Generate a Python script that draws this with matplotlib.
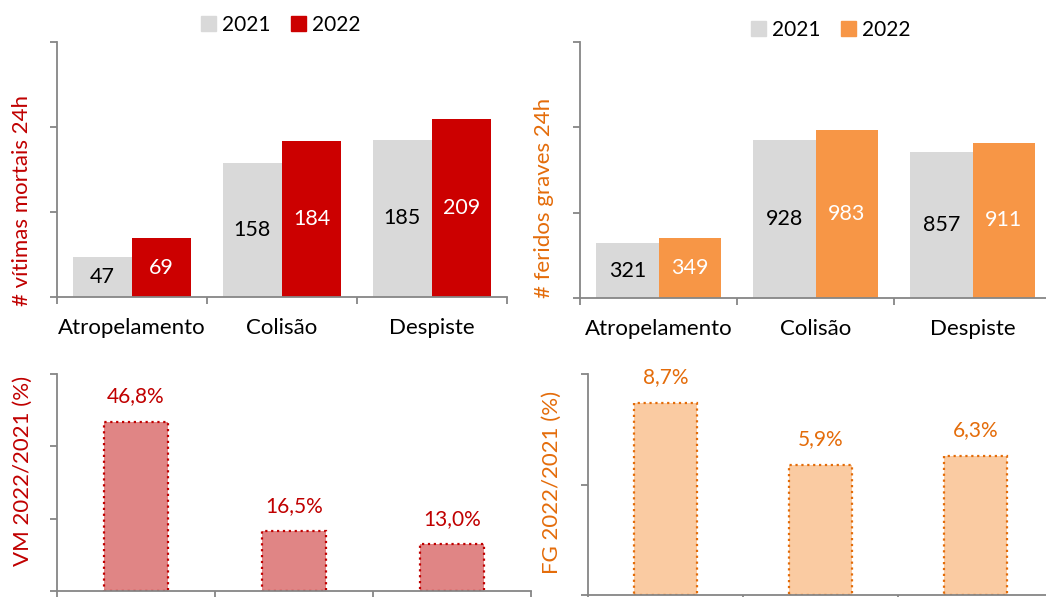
import matplotlib
matplotlib.use("Agg")
import matplotlib.pyplot as plt
import numpy as np
from matplotlib.patches import Patch

plt.rcParams['font.family'] = ['Lato', 'DejaVu Sans']

categories = ['Atropelamento', 'Colisão', 'Despiste']
years = ['2021', '2022']
vm_2021 = [47, 158, 185]
vm_2022 = [69, 184, 209]
fg_2021 = [321, 928, 857]
fg_2022 = [349, 983, 911]
vm_var = [46.8, 16.5, 13.0]
fg_var = [8.7, 5.9, 6.3]

GRAY = '#D9D9D9'
RED = '#CC0000'
ORANGE = '#F79646'
RED_TXT = '#C00000'
ORANGE_TXT = '#E46C0A'
SPINE = '#868686'

W, H = 1046, 597
fig = plt.figure(figsize=(W / 100, H / 100), dpi=100)


def box(left, top, right, bottom):
    return [left / W, 1 - bottom / H, (right - left) / W, (bottom - top) / H]


def style_axes(ax, ymax, ystep, show_labels=True, pad=15):
    n = len(categories)
    ax.set_xlim(-0.5, n - 0.5)
    ax.set_ylim(0, ymax)
    for s in ['top', 'right']:
        ax.spines[s].set_visible(False)
    for s in ['left', 'bottom']:
        ax.spines[s].set_color(SPINE)
        ax.spines[s].set_linewidth(1.3)
    ax.set_yticks(np.arange(0, ymax + ystep / 2, ystep))
    ax.set_yticklabels([])
    ax.tick_params(axis='y', direction='out', length=5, width=1.3, color=SPINE)
    # boundaries as major ticks, labels as minor ticks
    ax.set_xticks(np.arange(-0.5, n, 1.0))
    ax.set_xticklabels([])
    ax.tick_params(axis='x', which='major', direction='out', length=5,
                   width=1.3, color=SPINE)
    ax.set_xticks(np.arange(n), minor=True)
    if show_labels:
        ax.set_xticklabels(categories, minor=True, fontsize=16)
    else:
        ax.set_xticklabels([], minor=True)
    ax.tick_params(axis='x', which='minor', length=0, pad=pad)


def grouped(ax, a, b, color2):
    x = np.arange(len(categories))
    w = 0.395
    b1 = ax.bar(x - w, a, w, align='edge', color=GRAY)
    b2 = ax.bar(x, b, w, align='edge', color=color2)
    for r, v in zip(b1, a):
        ax.text(r.get_x() + r.get_width() / 2, v / 2, str(v),
                ha='center', va='center', fontsize=15.5, color='black')
    for r, v in zip(b2, b):
        ax.text(r.get_x() + r.get_width() / 2, v / 2, str(v),
                ha='center', va='center', fontsize=15.5, color='white')


def variation(ax, vals, fill, edge, txt):
    x = np.arange(len(categories))
    bars = ax.bar(x, vals, 0.41, color=fill, edgecolor=edge,
                  linestyle=':', linewidth=1.6)
    for r, v in zip(bars, vals):
        ax.annotate(f'{v:.1f}%'.replace('.', ','),
                    (r.get_x() + r.get_width() / 2, v),
                    xytext=(0, 11), textcoords='offset points',
                    ha='center', va='bottom', fontsize=15, color=txt)


# top left
ax1 = fig.add_axes(box(57, 42, 507, 297))
grouped(ax1, vm_2021, vm_2022, RED)
style_axes(ax1, 300, 100)
fig.text(22 / W, 1 - 200 / H, '# vítimas mortais 24h', rotation=90,
         ha='center', va='center', fontsize=16, color=RED_TXT)
fig.legend(handles=[Patch(color=GRAY, label=years[0]),
                    Patch(color=RED, label=years[1])],
           loc='center', bbox_to_anchor=(281 / W, 1 - 25 / H), ncol=2,
           frameon=False, fontsize=15, handlelength=0.7, handleheight=0.7,
           handletextpad=0.3, columnspacing=1.0)

# top right
ax2 = fig.add_axes(box(580, 42, 1051, 298))
grouped(ax2, fg_2021, fg_2022, ORANGE)
style_axes(ax2, 1500, 500)
fig.text(544 / W, 1 - 198 / H, '# feridos graves 24h', rotation=90,
         ha='center', va='center', fontsize=16, color=ORANGE_TXT)
fig.legend(handles=[Patch(color=GRAY, label=years[0]),
                    Patch(color=ORANGE, label=years[1])],
           loc='center', bbox_to_anchor=(831 / W, 1 - 30 / H), ncol=2,
           frameon=False, fontsize=15, handlelength=0.7, handleheight=0.7,
           handletextpad=0.3, columnspacing=1.0)

# bottom left
ax3 = fig.add_axes(box(57, 374, 531, 591))
variation(ax3, vm_var, '#E08585', RED_TXT, RED_TXT)
style_axes(ax3, 60, 20, show_labels=False)
fig.text(23 / W, 1 - 471 / H, 'VM 2022/2021 (%)', rotation=90,
         ha='center', va='center', fontsize=16, color=RED_TXT)

# bottom right
ax4 = fig.add_axes(box(588, 374, 1053, 595))
variation(ax4, fg_var, '#FACBA2', '#E36C09', ORANGE_TXT)
style_axes(ax4, 10, 5, show_labels=False)
fig.text(552 / W, 1 - 482 / H, 'FG 2022/2021 (%)', rotation=90,
         ha='center', va='center', fontsize=16, color=ORANGE_TXT)

fig.savefig('out.png', dpi=100)
